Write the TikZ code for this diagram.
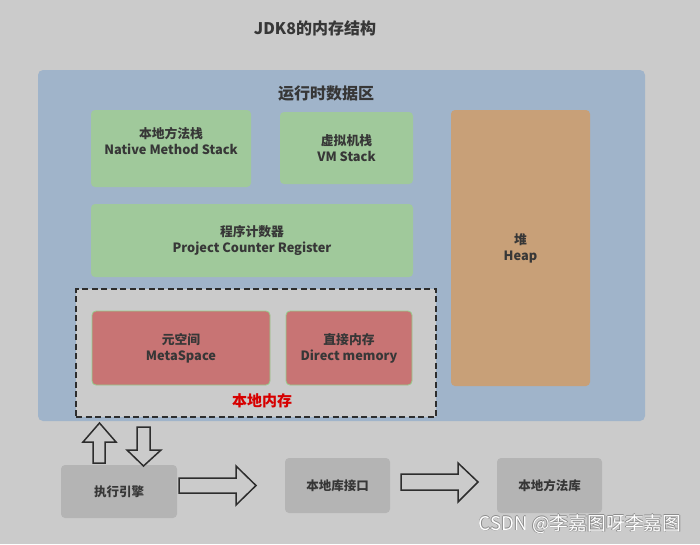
\documentclass[tikz,border=0pt]{standalone}
\usepackage{fontspec}
\setmainfont{Noto Sans CJK SC}
\definecolor{bgc}{RGB}{203,203,203}
\definecolor{rtblue}{RGB}{160,180,202}
\definecolor{stkgreen}{RGB}{160,201,155}
\definecolor{heapc}{RGB}{200,160,120}
\definecolor{nativered}{RGB}{200,116,116}
\definecolor{redborder}{RGB}{150,205,140}
\definecolor{botgray}{RGB}{180,180,180}
\definecolor{txt}{RGB}{55,55,55}
\definecolor{arrowc}{RGB}{45,45,45}
\definecolor{lblred}{RGB}{215,0,0}
\definecolor{wmgray}{RGB}{140,140,140}
\begin{document}
\begin{tikzpicture}[x=1pt,y=-1pt,
  box/.style={rectangle,rounded corners=4pt,inner sep=0pt,align=center,
    text=txt,font=\fontsize{12.8}{16}\selectfont\bfseries},
  greenbox/.style={box,fill=stkgreen},
  redbox/.style={box,fill=nativered,draw=redborder,line width=0.8pt},
  botbox/.style={box,fill=botgray,font=\fontsize{12.5}{16}\selectfont\bfseries},
  blockarrow/.style={draw=arrowc,fill=bgc,line width=1.5pt,line join=miter},
  lbl/.style={align=center,text=txt,inner sep=0pt,font=\fontsize{12.8}{16}\selectfont\bfseries},
  wmark/.style={inner sep=0pt,font=\fontsize{18.8}{21}\selectfont}]
\fill[bgc] (0,0) rectangle (700,544);
\useasboundingbox (0,0) rectangle (700,544);
% title
\node[text=txt,font=\fontsize{16}{19}\selectfont\bfseries] (title) at (315,28) {JDK8的内存结构};
% runtime data area
\node[rectangle,rounded corners=5pt,fill=rtblue,minimum width=607pt,minimum height=351pt] (rt) at (341.5,245.5) {};
\node[text=txt,font=\fontsize{16}{19}\selectfont\bfseries] (rttitle) at (326,94) {运行时数据区};
% stacks
\node[greenbox,minimum width=160pt,minimum height=77pt] (nms) at (171,148.5) {};
\node[lbl] (nmslbl) at (171,141) {本地方法栈\\Native Method Stack};
\node[greenbox,minimum width=133pt,minimum height=72pt] (vms) at (346.5,148) {虚拟机栈\\VM Stack};
\node[greenbox,minimum width=322pt,minimum height=73pt] (pc) at (252,240.5) {程序计数器\\Project Counter Register};
% heap
\node[box,fill=heapc,minimum width=139pt,minimum height=276pt] (heap) at (520.5,248) {堆\\Heap};
% native memory
\node[rectangle,draw=arrowc,fill=bgc,line width=1.8pt,dash pattern=on 6pt off 3.5pt,minimum width=360pt,minimum height=128pt] (nm) at (256,353) {};
\node[redbox,minimum width=178pt,minimum height=74pt] (meta) at (181,348) {元空间\\MetaSpace};
\node[redbox,minimum width=126pt,minimum height=74pt] (direct) at (349,348) {直接内存\\Direct memory};
\node[text=lblred,font=\fontsize{15}{18}\selectfont\bfseries,inner sep=0pt] (nmlbl) at (262,401) {本地内存};
% bottom boxes
\node[botbox,minimum width=116pt,minimum height=53pt] (exec) at (119,491.5) {执行引擎};
\node[botbox,minimum width=105pt,minimum height=55pt] (libif) at (337.5,485.5) {本地库接口};
\node[botbox,minimum width=105pt,minimum height=55pt] (nlib) at (549.5,485.5) {本地方法库};
% block arrows
\draw[blockarrow] (93,463) -- (105,463) -- (105,442) -- (116,442) -- (99.5,423) -- (83,442) -- (93,442) -- cycle;
\draw[blockarrow] (137,427) -- (150,427) -- (150,450) -- (161,450) -- (143.5,466) -- (127,450) -- (137,450) -- cycle;
\draw[blockarrow] (179,478) -- (236,478) -- (236,466) -- (256,485.5) -- (236,505) -- (236,493) -- (179,493) -- cycle;
\draw[blockarrow] (401,474) -- (458,474) -- (458,463) -- (478,482) -- (458,502) -- (458,490) -- (401,490) -- cycle;
% watermark (outlined look)
\foreach \dx/\dy in {-0.6/0,0.6/0,0/-0.6,0/0.6}
  \node[wmark,text=wmgray] at (580+\dx,524+\dy) {CSDN @李嘉图呀李嘉图};
\node[wmark,text=white] (wm) at (580,524) {CSDN @李嘉图呀李嘉图};
\end{tikzpicture}
\end{document}
